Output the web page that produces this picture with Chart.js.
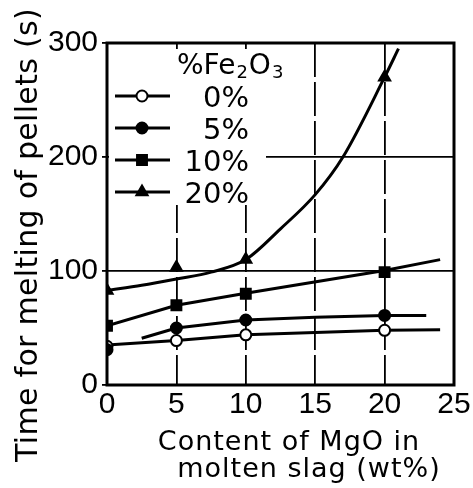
<!DOCTYPE html>
<html>
<head>
<meta charset="utf-8">
<script src="https://cdn.jsdelivr.net/npm/chart.js@4.4.0/dist/chart.umd.min.js"></script>
<style>
  html, body { margin: 0; padding: 0; background: #fff; }
</style>
</head>
<body>
<canvas id="chart" width="473" height="488"></canvas>
<script>
// MgO content in molten slag (wt%)
const mgo = [0, 5, 10, 20];
// melting time (s) per Fe2O3 level
const fe0 = [34, 39, 44, 48];
const fe5 = [31, 50, 57, 61];
const fe10 = [52, 70, 80, 99];
const fe20 = [83, 103, 110, 270];

// hand drawn trend curves
const fit0X = [0, 5, 10, 20, 24];
const fit0Y = [35, 39, 44, 48, 48.5];
const fit5X = [2.5, 5, 10, 15, 20, 23];
const fit5Y = [41, 50, 57, 59.5, 61, 61];
const fit10X = [0, 5, 10, 20, 24];
const fit10Y = [52, 70, 80.5, 100.5, 110];
const fit20X = [0, 2.5, 5, 7.5, 10, 12.5, 15, 17, 20, 21];
const fit20Y = [83, 87.5, 93, 99, 110, 137, 167, 200, 270, 295];

const xTicks = [0, 5, 10, 15, 20, 25];
const yTicks = [0, 100, 200, 300];
const legendLabels = ['0%', '5%', '10%', '20%'];

const TXT = '"DejaVu Sans", sans-serif';

const pts = (xs, ys) => xs.map((x, i) => ({ x: x, y: ys[i] }));

function curve(xs, ys, smooth) {
    return {
        data: pts(xs, ys),
        showLine: true,
        borderColor: '#000',
        borderWidth: 3,
        pointRadius: 0,
        tension: 0,
        cubicInterpolationMode: smooth ? 'monotone' : 'default',
        order: 9
    };
}

function marks(label, ys, style, fill, r, order) {
    return {
        label: label,
        data: pts(mgo, ys),
        showLine: false,
        pointStyle: style,
        pointRadius: r,
        backgroundColor: fill,
        borderColor: '#000',
        borderWidth: 2,
        order: order
    };
}

const series = [
    marks('0%', fe0, 'circle', '#fff', 5.5, 2),
    marks('5%', fe5, 'circle', '#000', 5.5, 1),
    marks('10%', fe10, 'rect', '#000', 7, 1),
    marks('20%', fe20, 'triangle', '#000', 6.5, 1)
];

// legend panel, frame and axis titles
const paper = {
    id: 'paper',
    afterDraw(chart) {
        const ctx = chart.ctx;
        const a = chart.chartArea;
        ctx.save();

        ctx.fillStyle = '#fff';
        ctx.fillRect(a.left + 2, a.top + 6, 157, 156);

        ctx.strokeStyle = '#000';
        ctx.lineWidth = 3;
        ctx.strokeRect(a.left, a.top, a.right - a.left, a.bottom - a.top);

        // legend title  %Fe2O3
        ctx.fillStyle = '#000';
        ctx.textAlign = 'left';
        ctx.textBaseline = 'alphabetic';
        let x = 177, y = a.top + 31;
        const parts = [['%Fe', 28, 0], ['2', 18, 4], ['O', 28, 0], ['3', 18, 4]];
        parts.forEach(p => {
            ctx.font = p[1] + 'px ' + TXT;
            ctx.fillText(p[0], x, y + p[2]);
            x += ctx.measureText(p[0]).width + 1;
        });

        // legend rows
        series.forEach((ds, i) => {
            const ry = a.top + 53 + i * 32;
            ctx.strokeStyle = '#000';
            ctx.lineWidth = 3;
            ctx.beginPath();
            ctx.moveTo(115, ry);
            ctx.lineTo(170, ry);
            ctx.stroke();
            ctx.fillStyle = ds.backgroundColor;
            ctx.lineWidth = ds.borderWidth;
            Chart.helpers.drawPoint(ctx, {
                pointStyle: ds.pointStyle, radius: ds.pointRadius, rotation: 0, borderWidth: ds.borderWidth
            }, 142, ry);
            ctx.fillStyle = '#000';
            ctx.font = '29px ' + TXT;
            ctx.textAlign = 'right';
            ctx.fillText(legendLabels[i], 249, ry + 11);
        });

        // x title
        ctx.fillStyle = '#000';
        ctx.font = '27px ' + TXT;
        ctx.letterSpacing = '1px';
        ctx.textAlign = 'center';
        ctx.fillText('Content of MgO in', 289, 450);
        ctx.fillText('molten slag (wt%)', 309, 477);

        // y title
        ctx.font = '30px ' + TXT;
        ctx.letterSpacing = '0.3px';
        ctx.translate(37, 235);
        ctx.rotate(-Math.PI / 2);
        ctx.fillText('Time for melting of pellets (s)', 0, 0);
        ctx.restore();
    }
};

new Chart(document.getElementById('chart'), {
    type: 'scatter',
    data: {
        datasets: [
            curve(fit0X, fit0Y, false),
            curve(fit5X, fit5Y, false),
            curve(fit10X, fit10Y, false),
            curve(fit20X, fit20Y, true)
        ].concat(series)
    },
    options: {
        responsive: false,
        animation: false,
        events: [],
        layout: { padding: { top: 43, right: 19, left: 0, bottom: 0 } },
        plugins: { legend: { display: false }, tooltip: { enabled: false } },
        scales: {
            x: {
                type: 'linear',
                min: 0,
                max: 25,
                afterBuildTicks: s => { s.ticks = xTicks.map(v => ({ value: v })); },
                afterFit: s => { s.height = 103; },
                border: { display: false, dash: [34, 5] },
                grid: { color: '#000', lineWidth: 1.8, drawTicks: false },
                ticks: { color: '#000', padding: 2, font: { family: 'Liberation Sans', size: 30 }, maxRotation: 0 }
            },
            y: {
                min: 0,
                max: 300,
                afterBuildTicks: s => { s.ticks = yTicks.map(v => ({ value: v })); },
                afterFit: s => { s.width = 107; },
                border: { display: false },
                grid: { color: '#000', lineWidth: 1.8, tickLength: 5 },
                ticks: { color: '#000', padding: 4, font: { family: 'Liberation Sans', size: 30 } }
            }
        }
    },
    plugins: [paper]
});
</script>
</body>
</html>
